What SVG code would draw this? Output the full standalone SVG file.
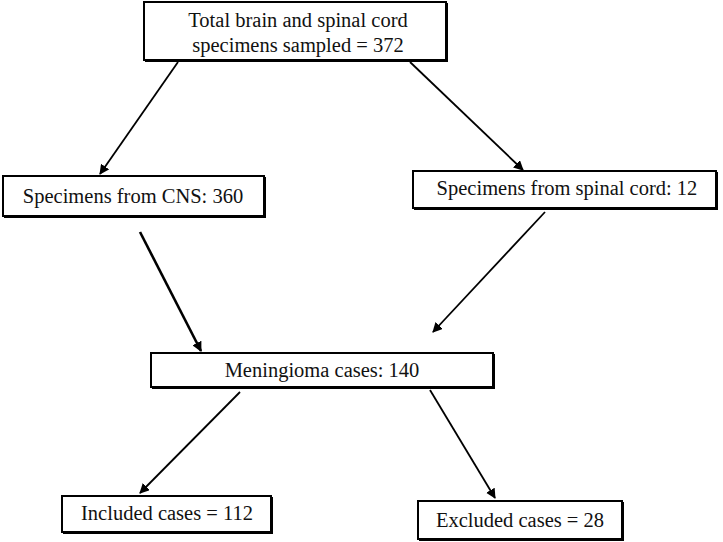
<svg xmlns="http://www.w3.org/2000/svg" width="723" height="542" viewBox="0 0 723 542">
<style>
.box{fill:#fff;stroke:#000;stroke-width:2}
.sh{fill:none;stroke:#000;stroke-width:2}
text{font-family:"Liberation Serif","Times New Roman",serif;font-size:20.5px;fill:#111;text-anchor:middle}
.c{stroke:#000;stroke-width:1.8;fill:none;marker-end:url(#ah)}
</style>
<defs>
<marker id="ah" viewBox="0 0 10 10" refX="9" refY="5" markerWidth="10" markerHeight="10" markerUnits="userSpaceOnUse" orient="auto"><path d="M0,0 L10,5 L0,10 z" fill="#000"/></marker>
</defs>
<g id="connectors">
<line class="c" x1="178" y1="62" x2="100" y2="174"/>
<line class="c" x1="410" y1="62" x2="523" y2="170"/>
<line class="c" x1="140" y1="232" x2="201" y2="351" style="stroke-width:2.6"/>
<line class="c" x1="545" y1="212" x2="433" y2="332"/>
<line class="c" x1="240" y1="392" x2="140" y2="493"/>
<line class="c" x1="430" y1="390" x2="495" y2="498"/>
</g>
<g id="n1"><rect class="box" x="144" y="2" width="302" height="58"/><path class="sh" d="M447,3 V61 H145"/><text x="298" y="27">Total brain and spinal cord</text><text x="298" y="52">specimens sampled = 372</text></g>
<g id="n2"><rect class="box" x="3" y="176" width="261" height="40"/><path class="sh" d="M265,177 V217 H4"/><text x="133" y="203">Specimens from CNS: 360</text></g>
<g id="n3"><rect class="box" x="413" y="171" width="303" height="37"/><path class="sh" d="M717,172 V209 H414"/><text x="567" y="195">Specimens from spinal cord: 12</text></g>
<g id="n4"><rect class="box" x="151" y="353" width="342" height="34"/><path class="sh" d="M494,354 V388 H152"/><text x="322" y="377">Meningioma cases: 140</text></g>
<g id="n5"><rect class="box" x="62" y="496" width="209" height="36"/><path class="sh" d="M272,497 V533 H63"/><text x="167" y="520">Included cases = 112</text></g>
<g id="n6"><rect class="box" x="418" y="501" width="204" height="38"/><path class="sh" d="M623,502 V540 H419"/><text x="520" y="527">Excluded cases = 28</text></g>
</svg>
